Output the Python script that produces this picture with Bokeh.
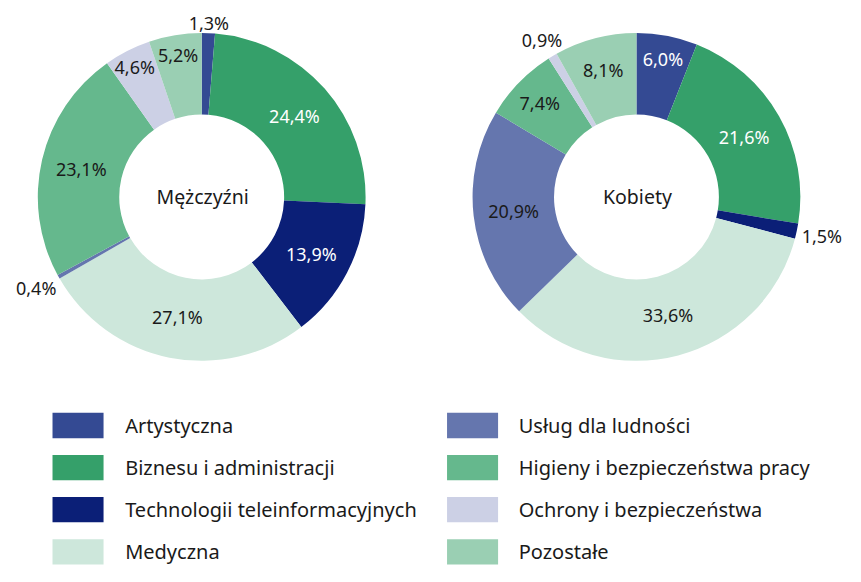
import numpy as np
from bokeh.plotting import figure
from bokeh.models import Range1d, ColumnDataSource
from bokeh.core.properties import value
from bokeh.embed import file_html
from bokeh.resources import INLINE

categories = ["Artystyczna", "Biznesu i administracji", "Technologii teleinformacyjnych",
              "Medyczna", "Usług dla ludności", "Higieny i bezpieczeństwa pracy",
              "Ochrony i bezpieczeństwa", "Pozostałe"]
men = [1.3, 24.4, 13.9, 27.1, 0.4, 23.1, 4.6, 5.2]
women = [6.0, 21.6, 1.5, 33.6, 20.9, 7.4, 0.9, 8.1]
colors = ["#344a93", "#35a06a", "#0b1f77", "#cde7db", "#6576ae", "#65b88d", "#ccd0e5", "#9acfb3"]
label_colors = ["#ffffff", "#ffffff", "#ffffff", "#1a1a1a", "#1a1a1a", "#1a1a1a", "#1a1a1a", "#1a1a1a"]
donut_titles = ["Mężczyźni", "Kobiety"]

FONT = "Noto Sans"
W, H = 845, 566
REF_W, REF_H = 861, 582

p = figure(width=W, height=H, output_backend="svg", toolbar_location=None,
           x_range=Range1d(0, REF_W), y_range=Range1d(0, REF_H),
           min_border=0, outline_line_color=None)
p.axis.visible = False
p.grid.visible = False
p.background_fill_color = "white"

R_OUT, R_IN = 167, 84
centers = [(205, 202), (648, 202)]


def fmt(v):
    return f"{v:.1f}".replace(".", ",") + "%"


for (cx, cy_ref), vals, title in zip(centers, [men, women], donut_titles):
    cy = REF_H - cy_ref
    vals = np.array(vals, dtype=float)
    frac = vals / vals.sum()
    cum_end = np.cumsum(frac)
    cum_start = cum_end - frac
    src = ColumnDataSource(dict(
        start=np.pi / 2 - 2 * np.pi * cum_end,
        end=np.pi / 2 - 2 * np.pi * cum_start,
        color=colors,
    ))
    p.annular_wedge(x=cx, y=cy, inner_radius=R_IN, outer_radius=R_OUT,
                    start_angle="start", end_angle="end", fill_color="color",
                    line_color=None, source=src)

    lx, ly, lt, lc = [], [], [], []
    for i, v in enumerate(vals):
        th = 2 * np.pi * (cum_start[i] + frac[i] / 2)
        ux, uy = np.sin(th), np.cos(th)
        if v < 2:
            r = 170 + abs(ux) * 22 + abs(uy) * 8
            col = "#1a1a1a"
        else:
            r = 126 + 4.5 * max(0.0, 10 - v)
            col = label_colors[i]
        lx.append(cx + r * ux)
        ly.append(cy + r * uy)
        lt.append(fmt(v))
        lc.append(col)
    p.text(x=lx, y=ly, text=lt, text_color=lc, text_align="center",
           text_baseline="middle", text_font=value(FONT), text_font_size="18px")
    p.text(x=[cx + 1], y=[cy], text=[title], text_color="#1a1a1a", text_align="center",
           text_baseline="middle", text_font=value(FONT), text_font_size="19.5px")

# legend
leg_x0 = [53, 455]
leg_text_x = [127, 528]
leg_y0 = 437
leg_dy = 43.3
rx, ry, tx, ty = [], [], [], []
for i, c in enumerate(categories):
    col, row = divmod(i, 4)
    yc = REF_H - (leg_y0 + row * leg_dy)
    rx.append(leg_x0[col] + 26)
    ry.append(yc)
    tx.append(leg_text_x[col])
    ty.append(yc)
p.rect(x=rx, y=ry, width=52, height=26, fill_color=colors, line_color=None)
p.text(x=tx, y=ty, text=categories, text_color="#1a1a1a", text_align="left",
       text_baseline="middle", text_font=value(FONT), text_font_size="20px")

open("out.html", "w").write(file_html(p, INLINE))
